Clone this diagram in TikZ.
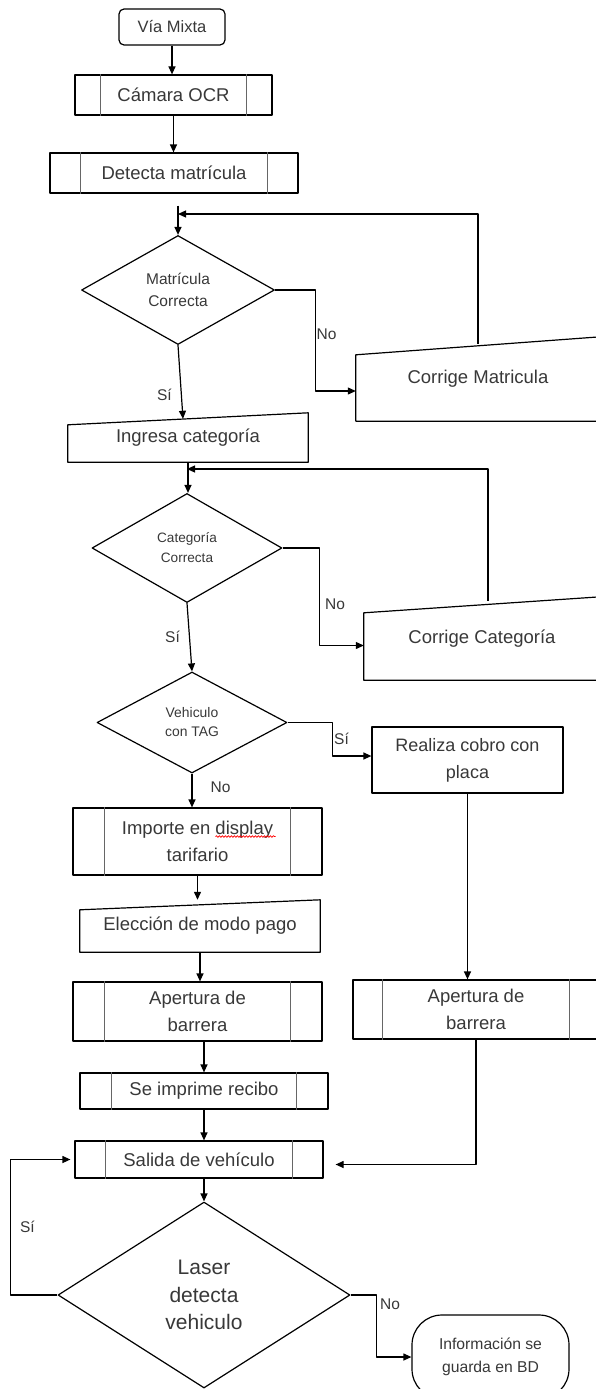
\documentclass[tikz,border=0pt]{standalone}
\usepackage{fontspec}
\setmainfont{Liberation Sans}
\usetikzlibrary{shapes.geometric,arrows.meta,decorations.pathmorphing}

\begin{document}
\begin{tikzpicture}[x=1pt,y=-1pt,line join=round]
    \tikzstyle{txt} = [text=black!78,align=center,inner sep=0pt]
    \tikzstyle{procbox} = [txt,draw,line width=1.2pt,font=\fontsize{18.5}{27}\selectfont]
    \tikzstyle{manual} = [txt,font=\fontsize{18.5}{27}\selectfont]
    \tikzstyle{decision} = [txt,draw,diamond,line width=1.2pt]
    \tikzstyle{bar} = [draw=black!60,line width=1pt]
    \tikzstyle{flow} = [line width=1.2pt,-{Triangle[length=8pt,width=7pt]}]
    \tikzstyle{lbl} = [text=black!78,font=\fontsize{15.5}{18}\selectfont,inner sep=1pt]
    \useasboundingbox (0,0) rectangle (595,1389);
    \node[procbox,rounded corners=5pt,minimum width=106pt,minimum height=36pt,
          font=\fontsize{16.5}{20}\selectfont] (via) at (172,27) {Vía Mixta};
    \node[procbox,minimum width=197pt,minimum height=40pt] (cam) at (173.5,95) {Cámara OCR};
    \node[procbox,minimum width=248pt,minimum height=40pt] (det) at (174,173) {Detecta matrícula};
    \node[decision,minimum width=193pt,minimum height=109pt,
          font=\fontsize{15.5}{22}\selectfont] (d1) at (178,290) {Matrícula\\Correcta};
    \node[manual,minimum width=240pt,minimum height=49pt] (ingresa) at (188,437.5) {Ingresa categoría};
    \node[manual,minimum width=244pt,minimum height=84pt] (cm) at (478,379) {Corrige Matricula};
    \node[decision,minimum width=190pt,minimum height=109pt,
          font=\fontsize{13.6}{20}\selectfont] (d2) at (187,548) {Categoría\\Correcta};
    \node[manual,minimum width=236pt,minimum height=83pt] (cc) at (482,638.5) {Corrige Categoría};
    \node[decision,minimum width=190pt,minimum height=101pt,
          font=\fontsize{13.9}{19}\selectfont] (d3) at (192,722.5) {Vehiculo\\con TAG};
    \node[procbox,minimum width=191pt,minimum height=66pt,
          font=\fontsize{18}{27}\selectfont] (realiza) at (467.5,760) {Realiza cobro con\\placa};
    \node[procbox,minimum width=249pt,minimum height=67pt] (importe) at (197.5,841.5) {Importe en display\\tarifario};
    \node[manual,minimum width=240pt,minimum height=52pt] (eleccion) at (200,926) {Elección de modo pago};
    \node[procbox,minimum width=249pt,minimum height=59pt] (ap1) at (197.5,1011.5) {Apertura de\\barrera};
    \node[procbox,minimum width=246pt,minimum height=59pt] (ap2) at (476,1009.5) {Apertura de\\barrera};
    \node[procbox,minimum width=248pt,minimum height=36pt] (recibo) at (204,1091) {Se imprime recibo};
    \node[procbox,minimum width=248pt,minimum height=37pt] (salida) at (199,1159.5) {Salida de vehículo};
    \node[decision,minimum width=292pt,minimum height=186pt,
          font=\fontsize{21}{27.5}\selectfont] (d4) at (204,1295) {Laser\\detecta\\vehiculo};
    \node[procbox,rounded corners=30pt,minimum width=157pt,minimum height=84pt,
          font=\fontsize{15.7}{23}\selectfont] (info) at (490.5,1357) {Información se\\guarda en BD};
    % manual input outlines and process side bars
    \foreach \n/\s in {ingresa/12,cm/18,cc/16,eleccion/10}
        \draw[line width=1.2pt] (\n.south west) -- ([yshift=-\s pt]\n.north west)
                                 -- (\n.north east) -- (\n.south east) -- cycle;
    \foreach \n/\w in {cam/26,det/31,importe/32,ap1/32,ap2/30,recibo/32,salida/31} {
        \draw[bar] ([xshift=\w pt]\n.north west) -- ([xshift=\w pt]\n.south west);
        \draw[bar] ([xshift=-\w pt]\n.north east) -- ([xshift=-\w pt]\n.south east);
    }
    \draw[red,line width=0.7pt,decorate,decoration={snake,amplitude=0.9pt,segment length=3pt}]
        ([xshift=18pt,yshift=5pt]importe.center) -- ([xshift=78pt,yshift=5pt]importe.center);
    \coordinate (fb1) at (178,214);
    \coordinate (fb2) at (187,469);
    \draw[flow] (via.south) -- (via.south |- cam.north);
    \draw[flow] (cam.south) -- (cam.south |- det.north);
    \draw[flow,shorten <=12pt] (d1.north |- det.south) -- (d1.north);
    \draw[flow] ([yshift=-7pt]cm.north) |- (fb1);
    \draw[flow] (d1.east) -- ++(40,0) |- node[lbl,pos=0.22,right]{No} ([yshift=-12pt]cm.west);
    \draw[flow] (d1.south) -- node[lbl,pos=0.68,left=8pt]{Sí} ([xshift=-5pt,yshift=-6pt]ingresa.north);
    \draw[flow] (ingresa.south) -- (ingresa.south |- d2.north);
    \draw[flow] ([xshift=6pt,yshift=-4pt]cc.north) |- (fb2);
    \draw[flow] (d2.east) -- ++(37,0) |- node[lbl,pos=0.29,right=4pt]{No} ([yshift=-7pt]cc.west);
    \draw[flow] (d2.south) -- node[lbl,pos=0.49,left=8pt]{Sí} (d3.north);
    \draw[flow] (d3.east) -- ++(45,0) |- node[lbl,pos=0.24,right]{Sí} ([yshift=4pt]realiza.west);
    \draw[flow] (d3.south) -- node[lbl,pos=0.4,right=17pt]{No} (d3.south |- importe.north);
    \draw[flow] (importe.south) -- (importe.south |- eleccion.north);
    \draw[flow] (eleccion.south) -- (eleccion.south |- ap1.north);
    \draw[flow] (recibo.north |- ap1.south) -- (recibo.north);
    \draw[flow] (recibo.south) -- (recibo.south |- salida.north);
    \draw[flow] (d4.north |- salida.south) -- (d4.north);
    \draw[flow] (realiza.south) -- (realiza.south |- ap2.north);
    \draw[flow,shorten >=12pt] (ap2.south) |- ([yshift=-5pt]salida.east);
    % exit sensor loop
    \draw[flow,shorten >=4pt] (d4.west) -- ++(-47,0) |- node[lbl,pos=0.25,right=8pt]{Sí} (salida.west);
    \draw[flow] (d4.east) -- ++(26,0) node[lbl,anchor=north west,xshift=2pt,yshift=-2pt]{No} |- (info.west);
\end{tikzpicture}
\end{document}
